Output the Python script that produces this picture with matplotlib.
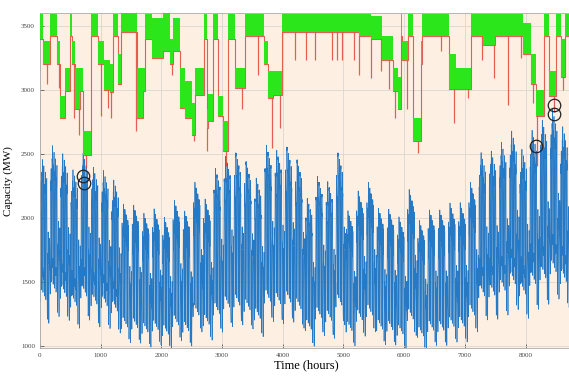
import numpy as np
import matplotlib
matplotlib.use('Agg')
import matplotlib.pyplot as plt

# IEEE RTS style load data (percent values)
weekly_peak = [86.2, 90.0, 87.8, 83.4, 88.0, 84.1, 83.2, 80.6, 74.0, 73.7, 71.5, 72.7, 70.4,
               75.0, 72.1, 80.0, 75.4, 83.7, 87.0, 88.0, 85.6, 81.1, 90.0, 88.7, 89.6, 86.1,
               75.5, 81.6, 80.1, 88.0, 72.2, 77.6, 80.0, 72.9, 72.6, 70.5, 78.0, 69.5, 72.4,
               72.4, 74.3, 74.4, 80.0, 88.1, 88.5, 90.9, 94.0, 89.0, 94.2, 97.0, 100.0, 95.2]
daily_peak = [93, 100, 98, 96, 94, 77, 75]
winter_wkdy = [67, 63, 60, 59, 59, 60, 74, 86, 95, 96, 96, 95, 95, 95, 93, 94, 99, 100, 100, 96, 91, 83, 73, 63]
winter_wknd = [78, 72, 68, 66, 64, 65, 66, 70, 80, 88, 90, 91, 90, 88, 87, 87, 91, 100, 99, 97, 94, 92, 87, 81]
summer_wkdy = [64, 60, 58, 56, 56, 58, 64, 76, 87, 95, 99, 100, 99, 100, 100, 97, 96, 96, 93, 92, 92, 93, 87, 72]
summer_wknd = [74, 70, 66, 65, 64, 62, 62, 66, 81, 86, 91, 93, 93, 92, 91, 91, 92, 94, 95, 95, 100, 93, 88, 80]
spfa_wkdy = [63, 62, 60, 58, 59, 65, 72, 85, 95, 99, 100, 99, 93, 92, 90, 88, 90, 92, 96, 98, 96, 90, 80, 70]
spfa_wknd = [75, 73, 69, 66, 65, 65, 68, 74, 83, 89, 92, 94, 91, 90, 90, 86, 85, 88, 92, 100, 97, 95, 90, 85]
annual_peak = 2850

# available capacity: segment start (h), band top, band bottom
cap_start = [0, 50, 170, 280, 330, 410, 500, 530, 580, 660, 710, 850, 960, 1060, 1150, 1200,
             1290, 1340, 1600, 1700, 1730, 1850, 2020, 2150, 2200, 2310, 2390, 2510, 2560,
             2700, 2750, 2770, 2850, 2930, 3020, 3100, 3220, 3380, 3690, 3760, 3840, 3990,
             5250, 5460, 5640, 5810, 5890, 5950, 5970, 6070, 6140, 6270, 6300, 6730, 6850,
             7100, 7300, 7500, 7720, 7960, 8090, 8170, 8300, 8380, 8500, 8580, 8640, 8760]
cap_hi = [3590, 3380, 3590, 3380, 2950, 3170, 3590, 3380, 3170, 3170, 2680, 3590, 3380, 3230,
          3200, 3590, 3280, 3600, 3170, 3170, 3590, 3560, 3600, 3400, 3560, 3170, 3070, 2900,
          3170, 3590, 2850, 2970, 3590, 2950, 2760, 3590, 3170, 3590, 3380, 3150, 3150, 3590,
          3590, 3580, 3420, 3170, 3100, 3590, 3380, 3590, 2780, 3380, 3590, 3280, 3170,
          3590, 3590, 3590, 3590, 3520, 3280, 3000, 3590, 3150, 3590, 3400, 3590]
cap_lo = [3400, 3200, 3420, 3200, 2780, 2990, 3420, 3200, 2850, 2990, 2490, 3420, 3200, 3000,
          2980, 3420, 3050, 3450, 2780, 2990, 3400, 3250, 3300, 3200, 3300, 2860, 2780, 2650,
          2960, 3400, 2700, 2760, 3400, 2800, 2520, 3400, 3015, 3420, 3200, 2940, 2960, 3450,
          3420, 3400, 3230, 2990, 2850, 3420, 3230, 3420, 2600, 3200, 3420, 3010, 3010,
          3420, 3350, 3420, 3420, 3280, 3050, 2800, 3420, 2950, 3420, 3100, 3420]
dip_hour = [110, 310, 560, 640, 760, 1010, 1120, 1180, 1580, 2170, 2540, 2760, 3060, 3330,
            3600, 3830, 3950, 4200, 4380, 4530, 4810, 4890, 4970, 5170, 5250, 5460, 5610,
            5750, 5850, 6040, 6230, 6600, 6820, 7050, 7280, 7480, 7710, 7930, 8120, 8190,
            8460, 8610]
dip_val = [3050, 3015, 2780, 2650, 2390, 2800, 2860, 2780, 2680, 3120, 2600, 2520, 2410, 2850,
           3120, 2550, 2700, 3230, 3230, 3230, 3230, 3230, 3230, 3230, 3120, 3090, 3150,
           3010, 2780, 2850, 2510, 3300, 2740, 2940, 3230, 3090, 2880, 3250, 2900, 2410,
           2830, 3000]

# loss of load points (circled)
lol_hour = [712, 722, 8170, 8465, 8470]
lol_val = [2330, 2270, 2560, 2880, 2810]

# build hourly load
load = []
for w in range(52):
    wk = w + 1
    if wk <= 8 or wk >= 44:
        wd, we = winter_wkdy, winter_wknd
    elif 18 <= wk <= 30:
        wd, we = summer_wkdy, summer_wknd
    else:
        wd, we = spfa_wkdy, spfa_wknd
    for d in range(7):
        prof = wd if d < 5 else we
        for h in range(24):
            load.append(annual_peak * weekly_peak[w] / 100 * daily_peak[d] / 100 * prof[h] / 100)
load = np.array(load)
hours = np.arange(len(load))

plt.rcParams['font.family'] = ['Liberation Serif', 'DejaVu Serif']

fig = plt.figure(figsize=(5.69, 3.83), dpi=100)
ax = fig.add_axes([0.070, 0.091, 0.935, 0.875])
ax.set_facecolor('#fdf0e3')

ax.plot(hours, load, color='#2679c4', lw=0.5, zorder=2)

cx = np.array(cap_start)
hi = np.array(cap_hi + [cap_hi[-1]])
lo = np.array(cap_lo + [cap_lo[-1]])
ax.step(cx, lo, where='post', color='#e0463a', lw=0.8, alpha=0.85, zorder=3)
idx = np.searchsorted(cx, dip_hour, side='right') - 1
ax.vlines(dip_hour, dip_val, lo[idx], color='#e0463a', lw=0.9, alpha=0.85, zorder=3)
ax.fill_between(cx, lo, hi, step='post', color='#2ae61a', lw=0, zorder=4)

ax.plot(lol_hour, lol_val, 'o', ms=9, mfc='none', mec='#222222', mew=0.9, zorder=5)

ax.set_xlim(0, 8760)
ax.set_ylim(985, 3600)
ax.set_xticks(np.arange(0, 9000, 1000))
ax.set_yticks(np.arange(1000, 3600, 500))
ax.grid(True, color='#dcd6d0', lw=0.6)
ax.set_axisbelow(True)
ax.tick_params(labelsize=5, direction='in', length=3, width=0.5, colors='#444444')
for s in ax.spines.values():
    s.set_color('#aaaaaa')
    s.set_linewidth(0.6)

ax.set_xlabel('Time (hours)', fontsize=9, labelpad=1)
ax.set_ylabel('Capacity (MW)', fontsize=8, labelpad=6)

fig.savefig('out.png', dpi=100)
